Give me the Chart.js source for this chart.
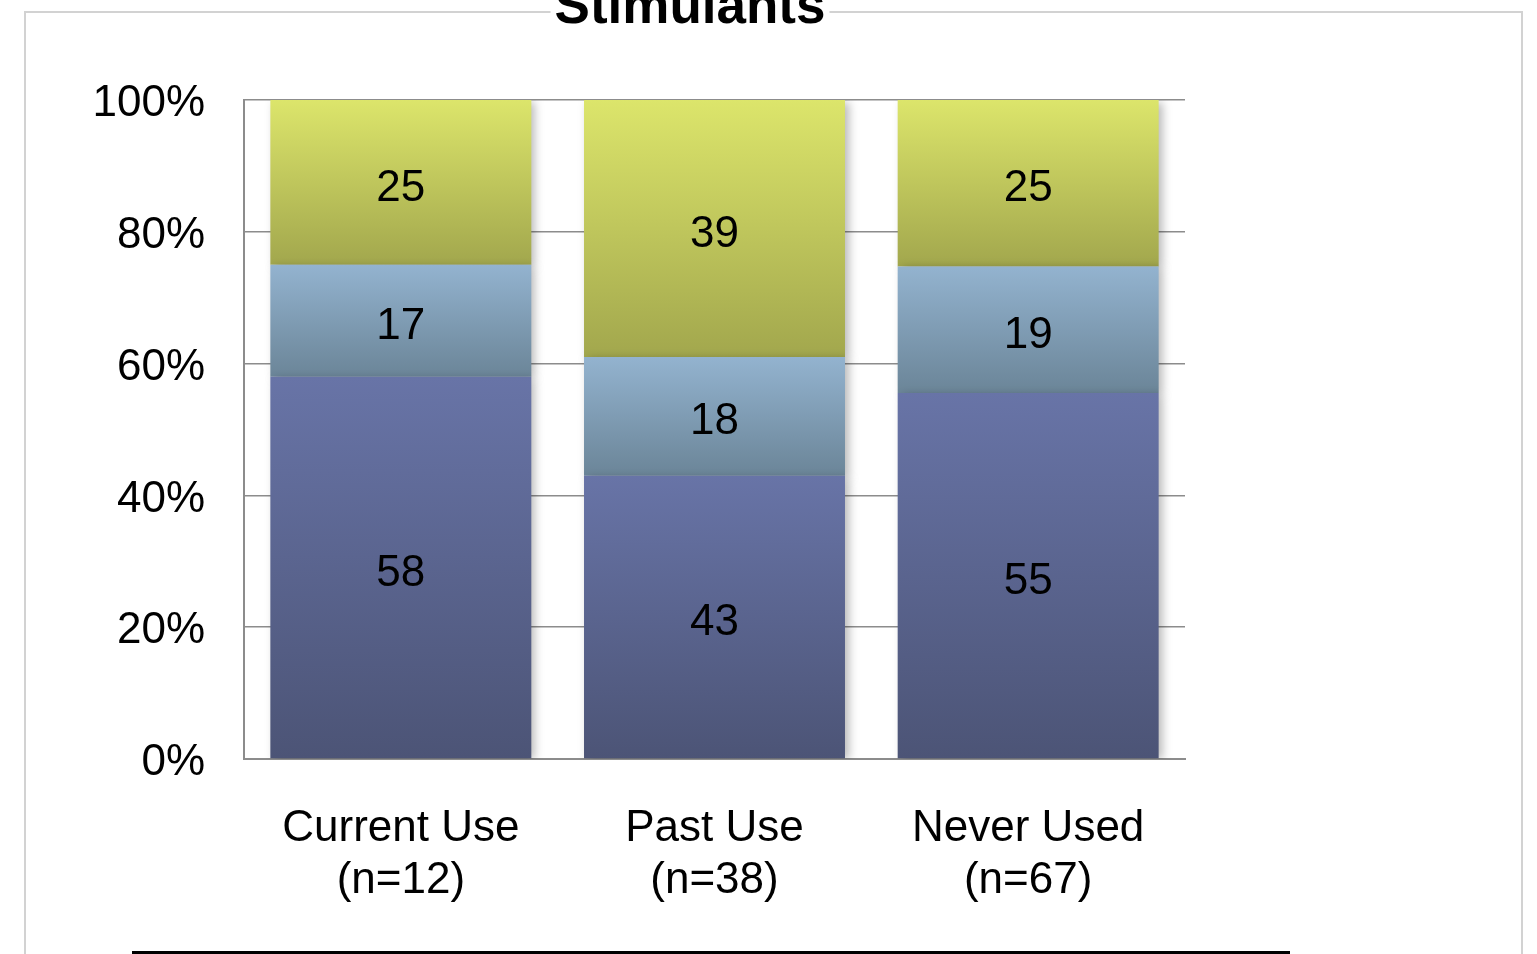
<!DOCTYPE html>
<html>
<head>
<meta charset="utf-8">
<script src="https://cdn.jsdelivr.net/npm/chart.js@4/dist/chart.umd.min.js"></script>
<style>
  html, body { margin: 0; padding: 0; background: #ffffff; overflow: hidden; }
  #wrap { position: relative; width: 1537px; height: 954px; }
</style>
</head>
<body>
<div id="wrap"><canvas id="c" width="1537" height="954"></canvas></div>
<script>
// Groups on the x axis (two-line labels)
const categories = [
  ['Current Use', '(n=12)'],
  ['Past Use', '(n=38)'],
  ['Never Used', '(n=67)']
];

// Counts per segment, stacked bottom to top
const bottomCounts = [58, 43, 55];
const middleCounts = [17, 18, 19];
const topCounts    = [25, 39, 25];

// Y axis tick labels
const yTickValues = [0, 20, 40, 60, 80, 100];
const yTickLabels = ['0%', '20%', '40%', '60%', '80%', '100%'];

const titleText = 'Stimulants';

// Share of each column, so every column fills to 100%
const totals = categories.map((_, i) => bottomCounts[i] + middleCounts[i] + topCounts[i]);
const toPct = arr => arr.map((v, i) => v / totals[i] * 100);

const seriesCounts = [bottomCounts, middleCounts, topCounts];
const gradientStops = [
  ['#6874a7', '#4c5476'],
  ['#93b3cf', '#6b8598'],
  ['#dce56b', '#a2a74d']
];

function segmentGradient(ctx) {
  const chart = ctx.chart;
  const area = chart.chartArea;
  const ds = ctx.datasetIndex;
  const stops = gradientStops[ds];
  if (!area || ctx.type !== 'data') return stops[0];
  const y = chart.scales.y;
  const i = ctx.dataIndex;
  let start = 0;
  for (let k = 0; k < ds; k++) start += chart.data.datasets[k].data[i];
  const end = start + chart.data.datasets[ds].data[i];
  const yTop = y.getPixelForValue(end);
  const yBot = y.getPixelForValue(start);
  const g = chart.ctx.createLinearGradient(0, yTop, 0, yBot);
  g.addColorStop(0, stops[0]);
  g.addColorStop(1, stops[1]);
  return g;
}

const FONT = '"Liberation Sans", Arial, sans-serif';

// Frame, title and bottom rule
const framePlugin = {
  id: 'frame',
  beforeDraw(chart) {
    const c = chart.ctx;
    c.save();
    c.strokeStyle = '#d2d2d2';
    c.lineWidth = 2;
    c.strokeRect(25, 12, 1497, 1000);
    c.restore();
  },
  afterDraw(chart) {
    const c = chart.ctx;
    c.save();
    // title sits over the frame's top edge
    c.font = 'bold 53px ' + FONT;
    c.textAlign = 'center';
    c.textBaseline = 'alphabetic';
    const w = c.measureText(titleText).width;
    c.fillStyle = '#ffffff';
    c.fillRect(690 - w / 2 - 4, 0, w + 8, 20);
    c.fillStyle = '#000000';
    c.fillText(titleText, 690, 23);
    // bottom rule
    c.fillStyle = '#000000';
    c.fillRect(132, 951, 1158, 4);
    c.restore();
  }
};

// Soft shadow to the right of each bar
const shadowPlugin = {
  id: 'barShadow',
  beforeDatasetsDraw(chart) {
    const c = chart.ctx;
    c.save();
    c.shadowColor = 'rgba(0,0,0,0.28)';
    c.shadowBlur = 9;
    c.shadowOffsetX = 4;
    c.shadowOffsetY = 2;
  },
  afterDatasetsDraw(chart) {
    chart.ctx.restore();
  }
};

// Count labels centred in each segment
const valueLabels = {
  id: 'valueLabels',
  afterDatasetsDraw(chart) {
    const c = chart.ctx;
    c.save();
    c.font = '44px ' + FONT;
    c.fillStyle = '#000000';
    c.textAlign = 'center';
    c.textBaseline = 'middle';
    chart.data.datasets.forEach((ds, di) => {
      chart.getDatasetMeta(di).data.forEach((bar, i) => {
        const cy = (bar.y + bar.base) / 2;
        c.fillText(String(seriesCounts[di][i]), bar.x, cy + 6);
      });
    });
    c.restore();
  }
};

new Chart(document.getElementById('c'), {
  type: 'bar',
  data: {
    labels: categories,
    datasets: [
      { label: 'bottom', data: toPct(bottomCounts), backgroundColor: segmentGradient },
      { label: 'middle', data: toPct(middleCounts), backgroundColor: segmentGradient },
      { label: 'top',    data: toPct(topCounts),    backgroundColor: segmentGradient }
    ]
  },
  options: {
    responsive: false,
    animation: false,
    events: [],
    layout: { padding: { left: 0, right: 352, top: 100, bottom: 0 } },
    datasets: { bar: { barPercentage: 0.832, categoryPercentage: 1, borderWidth: 0 } },
    plugins: { legend: { display: false }, tooltip: { enabled: false }, title: { display: false } },
    scales: {
      x: {
        stacked: true,
        grid: { display: false, drawTicks: false },
        border: { display: true, color: '#8c8c8c', width: 2 },
        ticks: {
          color: '#000000',
          font: { family: FONT, size: 44, lineHeight: 1.2 },
          padding: 43,
          maxRotation: 0,
          autoSkip: false
        },
        afterFit(s) { s.height = 195; }
      },
      y: {
        stacked: true,
        min: 0,
        max: 100,
        afterBuildTicks(s) { s.ticks = yTickValues.map(v => ({ value: v })); },
        grid: { color: '#8c8c8c', lineWidth: 1.5, drawTicks: false },
        border: { display: true, color: '#8c8c8c', width: 2 },
        ticks: {
          color: '#000000',
          font: { family: FONT, size: 44 },
          padding: 39,
          labelOffset: 4,
          callback: (v) => yTickLabels[yTickValues.indexOf(v)]
        },
        afterFit(s) { s.width = 244; }
      }
    }
  },
  plugins: [framePlugin, shadowPlugin, valueLabels]
});
</script>
</body>
</html>
